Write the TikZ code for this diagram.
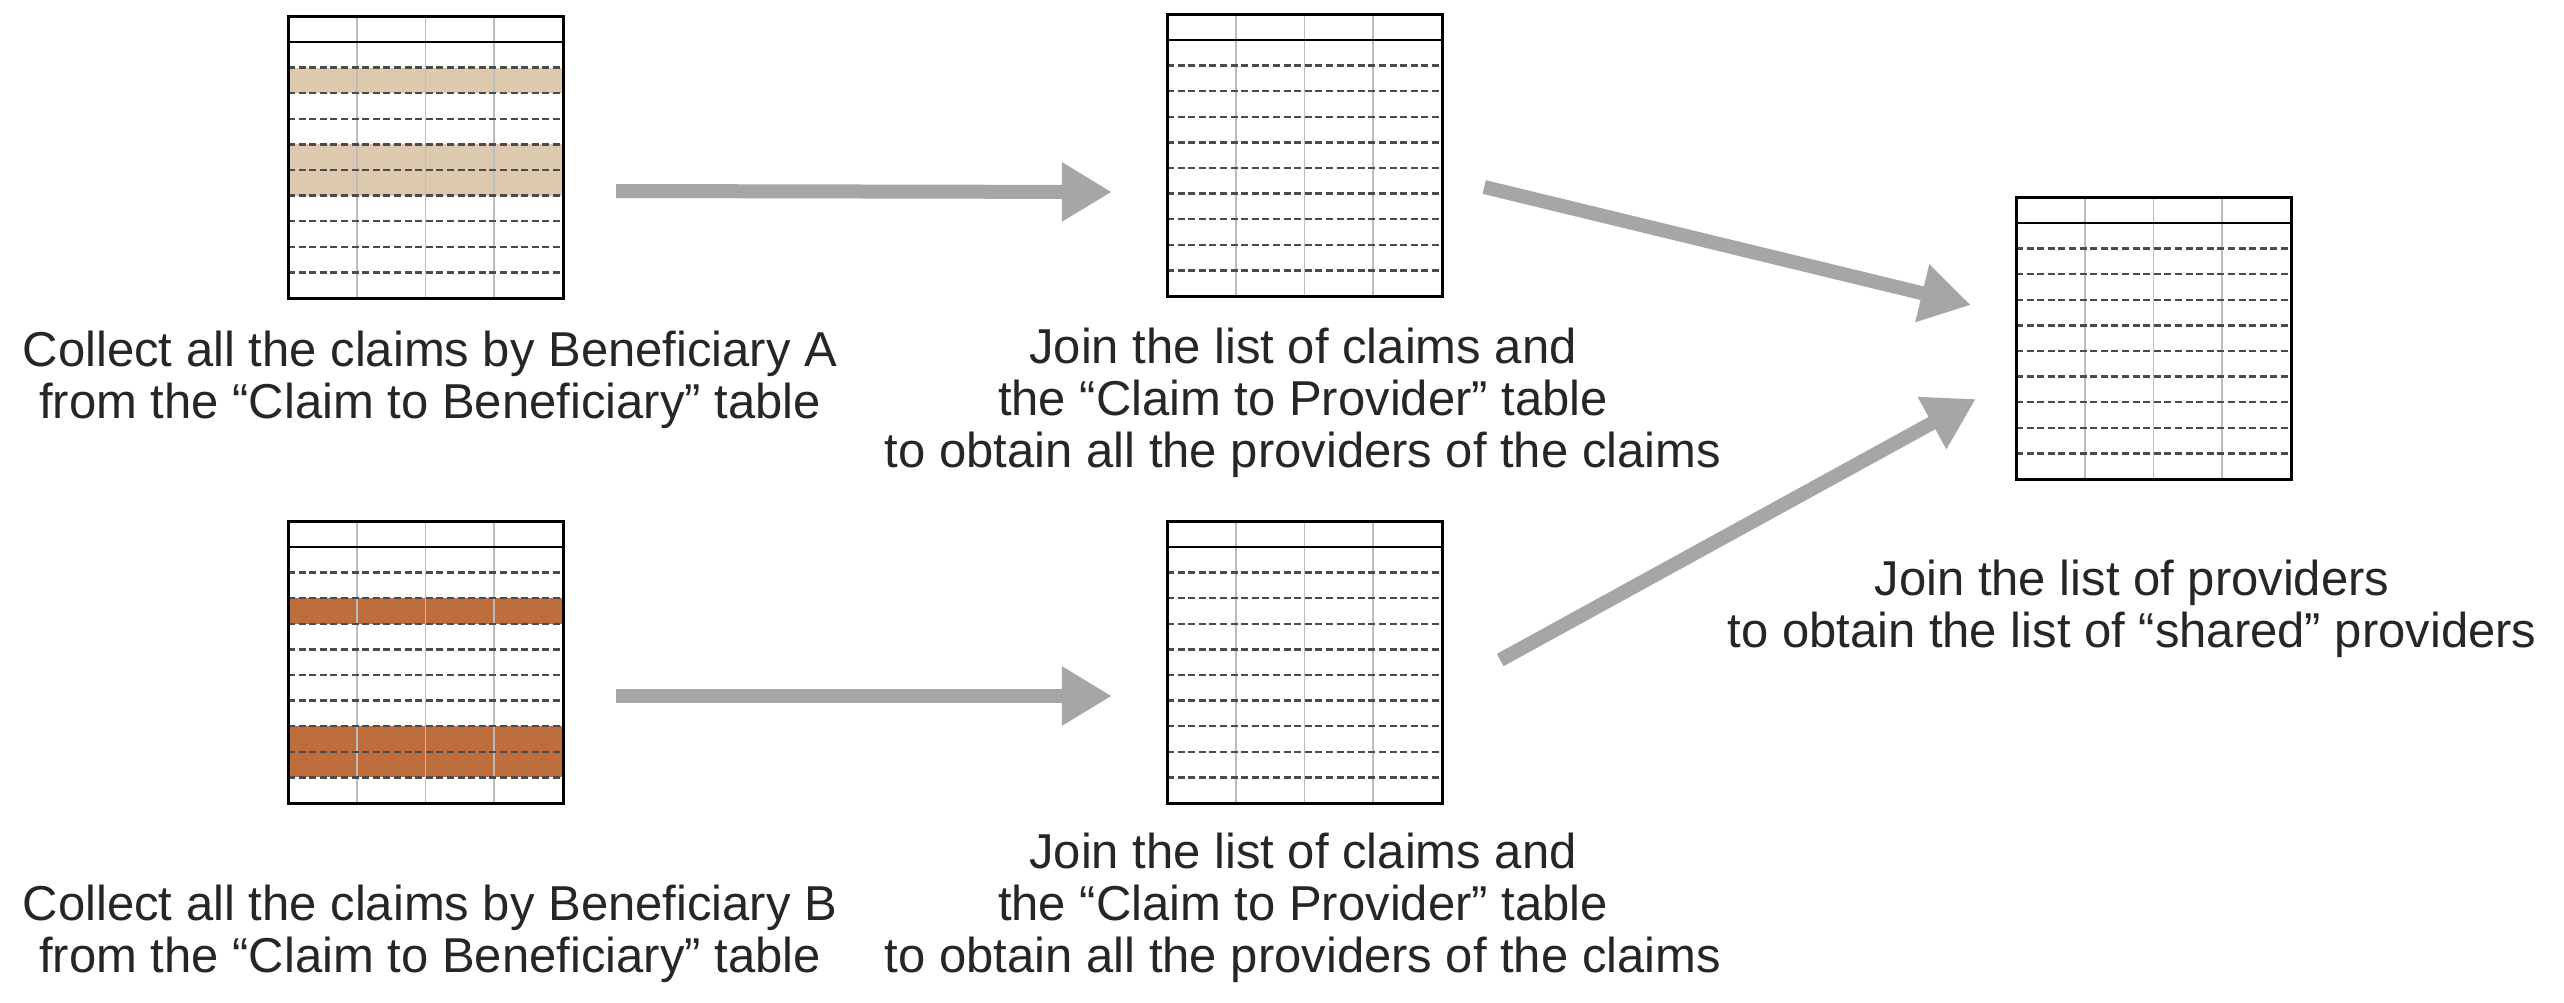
\documentclass[tikz,border=0pt]{standalone}
\usepackage{fontspec}
\setmainfont{Liberation Sans}
\usetikzlibrary{arrows.meta,calc}

\definecolor{tanrow}{RGB}{221,201,173}
\definecolor{brownrow}{RGB}{190,110,60}
\definecolor{arrowgrey}{RGB}{166,166,166}
\definecolor{colgrey}{RGB}{188,188,188}
\definecolor{dashgrey}{RGB}{75,75,75}

\tikzset{
  % a small data table: header row, ten body rows, four columns;
  % #1 = list of highlighted body rows, #2 = their fill colour
  pics/datatable/.style 2 args={code={
    \foreach \rowidx in {#1} {
      \fill[#2] (0,26+\rowidx*25.6) rectangle (275,51.6+\rowidx*25.6);
    }
    \foreach \colidx in {1,2,3}
      \draw[colgrey, line width=1.8pt] (\colidx*68.75,0) -- (\colidx*68.75,282);
    \foreach \lineidx in {1,...,9}
      \draw[dashgrey, line width=2.4pt, dash pattern=on 7pt off 3.6pt]
        (0,26+\lineidx*25.6) -- (275,26+\lineidx*25.6);
    \draw[black, line width=2.8pt] (0,26) -- (275,26);
    \draw[black, line width=3pt] (0,0) rectangle (275,282);
    \node[inner sep=0, minimum width=275pt, minimum height=282pt] (-box) at (137.5,141) {};
  }},
  flowarrow/.style={arrowgrey, line width=14pt,
    -{Triangle[length=50pt, width=56pt]}},
  caption/.style={align=center, inner sep=0, anchor=north,
    font=\fontsize{49}{52}\selectfont, text=black!85},
}

\begin{document}
\begin{tikzpicture}[x=1pt, y=-1pt]
  \fill[white] (0,0) rectangle (2564,1002);
  \useasboundingbox (0,0) rectangle (2564,1002);

  % tables
  \pic (tA) at (288,16)   {datatable={{1,4,5}{tanrow}}};
  \pic (tB) at (288,521)  {datatable={{2,7,8}{brownrow}}};
  \pic (tC) at (1167,14)  {datatable={{}{white}}};
  \pic (tD) at (1167,521) {datatable={{}{white}}};
  \pic (tE) at (2016,197) {datatable={{}{white}}};

  % arrow end points
  \coordinate (aAs) at ($(tA-box.east)+(53,34)$);
  \coordinate (aAe) at ($(tC-box.west)+(-55,37)$);
  \coordinate (aBs) at ($(tB-box.east)+(53,34)$);
  \coordinate (aBe) at ($(tD-box.west)+(-55,34)$);
  \coordinate (aCs) at ($(tC-box.east)+(42,32)$);
  \coordinate (aCe) at ($(tE-box.west)+(-45,-33)$);
  \coordinate (aDs) at ($(tD-box.east)+(58,-2)$);
  \coordinate (aDe) at ($(tE-box.west)+(-40,61)$);

  \draw[flowarrow] (aAs) -- (aAe);
  \draw[flowarrow] (aBs) -- (aBe);
  \draw[flowarrow] (aCs) -- (aCe);
  \draw[flowarrow] (aDs) -- (aDe);

  % captions
  \node[caption] (capA) at (430,331)
    {Collect all the claims by Beneficiary A\\from the “Claim to Beneficiary” table};
  \node[caption] (capC) at (1303,328)
    {Join the list of claims and\\the “Claim to Provider” table\\to obtain all the providers of the claims};
  \node[caption] (capE) at (2132,560)
    {Join the list of providers\\to obtain the list of “shared” providers};
  \node[caption] (capD) at (1303,833)
    {Join the list of claims and\\the “Claim to Provider” table\\to obtain all the providers of the claims};
  \node[caption] (capB) at (430,885)
    {Collect all the claims by Beneficiary B\\from the “Claim to Beneficiary” table};
\end{tikzpicture}
\end{document}
